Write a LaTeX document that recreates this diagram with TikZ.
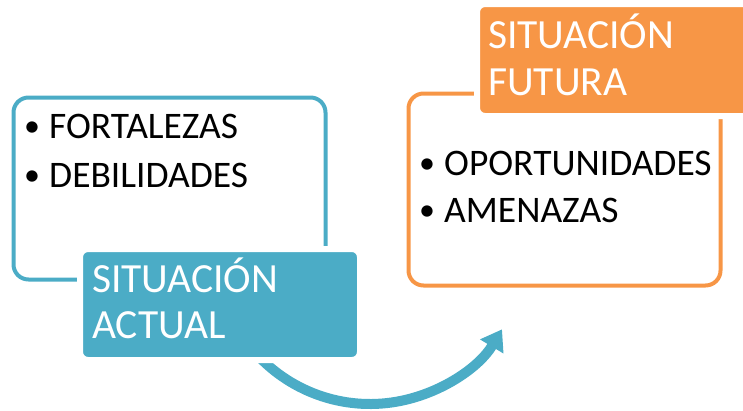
\documentclass[tikz,border=0pt]{standalone}
\usepackage{fontspec}
\setmainfont{Carlito}
\usetikzlibrary{arrows.meta}
\definecolor{accblue}{HTML}{4BACC6}
\definecolor{accorange}{HTML}{F79646}
\tikzset{
  outlinebox/.style={draw=#1, line width=4pt, rounded corners=15pt, inner sep=0pt},
  fillbox/.style={fill=#1, draw=white, line width=6pt, rounded corners=8pt, inner sep=0pt},
  titletext/.style={anchor=base west, inner sep=0pt, text=white, font=\fontsize{41.5}{46}\selectfont},
  bullettext/.style={anchor=base west, inner sep=0pt, text=black, font=\fontsize{37.5}{48}\selectfont},
}
\newcommand{\bul}{\makebox[25pt][l]{\raisebox{1.5pt}{\fontsize{32}{32}\selectfont •}}}
\begin{document}
\begin{tikzpicture}[x=1pt,y=-1pt]
\useasboundingbox (0,0) rectangle (743,410);
\clip (0,0) rectangle (743,410);
% outline boxes
\node[outlinebox=accblue, minimum width=312pt, minimum height=182pt] (blueout) at (169.5,188.5) {};
\node[outlinebox=accorange, minimum width=312pt, minimum height=192pt] (orangeout) at (564.5,189.5) {};
% arrow
\coordinate (arcS) at ({370+154*cos(140)},{250+154*sin(140)});
\draw[accblue, line width=10pt, -{Triangle[width=26pt,length=20pt]}] (arcS) arc[start angle=140, end angle=31, radius=154];
% filled boxes
\node[fillbox=accblue, minimum width=280pt, minimum height=111pt] (bluefill) at (220,304.5) {};
\node[fillbox=accorange, minimum width=296pt, minimum height=112pt] (orangefill) at (625,60) {};
% texts
\node[titletext] (bluetitle1) at (92,292) {SITUACIÓN};
\node[titletext] (bluetitle2) at (92,338) {ACTUAL};
\node[titletext] (orangetitle1) at (488,48) {SITUACIÓN};
\node[titletext] (orangetitle2) at (488,95) {FUTURA};
\node[bullettext] (blueitem1) at (24,138) {\bul FORTALEZAS};
\node[bullettext] (blueitem2) at (24,187) {\bul DEBILIDADES};
\node[bullettext] (orangeitem1) at (419,175) {\bul OPORTUNIDADES};
\node[bullettext] (orangeitem2) at (419,222) {\bul AMENAZAS};
\end{tikzpicture}
\end{document}
